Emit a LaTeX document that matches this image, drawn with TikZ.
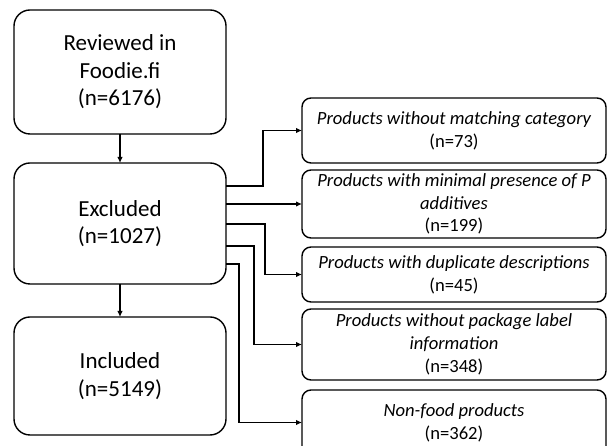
\documentclass[tikz,border=0pt]{standalone}
\usepackage{fontspec}
\setmainfont{Carlito}
\usetikzlibrary{arrows.meta,positioning}

\begin{document}
\begin{tikzpicture}
	[x=1pt,y=1pt,line width=1.4pt,
	 every node/.style={draw,align=center,inner sep=0pt,outer sep=0pt},
	 mainbox/.style={rounded corners=16pt,minimum width=212pt,font=\fontsize{23}{27.5}\selectfont},
	 subbox/.style={rounded corners=9pt,minimum width=304pt,font=\fontsize{18.6}{22.8}\selectfont},
	 every path/.style={-{Latex[length=6pt,width=5.5pt]}}]

	\clip (0,0) rectangle (607,446);
	%\draw[help lines] (0,0) grid (607,446);
    \node[mainbox,minimum height=124pt] (rev) at (120,374) {Reviewed in\\Foodie.fi\\(n=6176)};
    \node[mainbox,minimum height=121pt] (excl) at (120,222.5) {Excluded\\(n=1027)};
    \node[mainbox,minimum height=118pt] (incl) at (120,70) {Included\\(n=5149)};

    \node[subbox,minimum height=65pt] (cat) at (454,315.5) {\itshape Products without matching category\\(n=73)};
    \node[subbox,minimum height=68pt] (add) at (454,242) {\itshape Products with minimal presence of P\\\itshape additives\\(n=199)};
    \node[subbox,minimum height=55pt] (dup) at (454,171.5) {\itshape Products with duplicate descriptions\\(n=45)};
    \node[subbox,minimum height=71pt] (lab) at (454,101.5) {\itshape Products without package label\\\itshape information\\(n=348)};
    \node[subbox,minimum height=65pt] (nf) at (454,23.5) {\itshape Non-food products\\(n=362)};

    \path (rev) edge (excl);
    \path (excl) edge (incl);

    \draw ([yshift=37.5pt]excl.east) -- ++(37,0) |- (cat.west);
    \draw (excl.east |- add.west) -- (add.west);
    \draw ([yshift=-0.5pt]excl.east) -- ++(39,0) |- (dup.west);
    \draw ([yshift=-22.5pt]excl.east) -- ++(28,0) |- (lab.west);
    \draw ([yshift=-40.5pt]excl.east) -- ++(13,0) |- (nf.west);

\end{tikzpicture}
\end{document}
